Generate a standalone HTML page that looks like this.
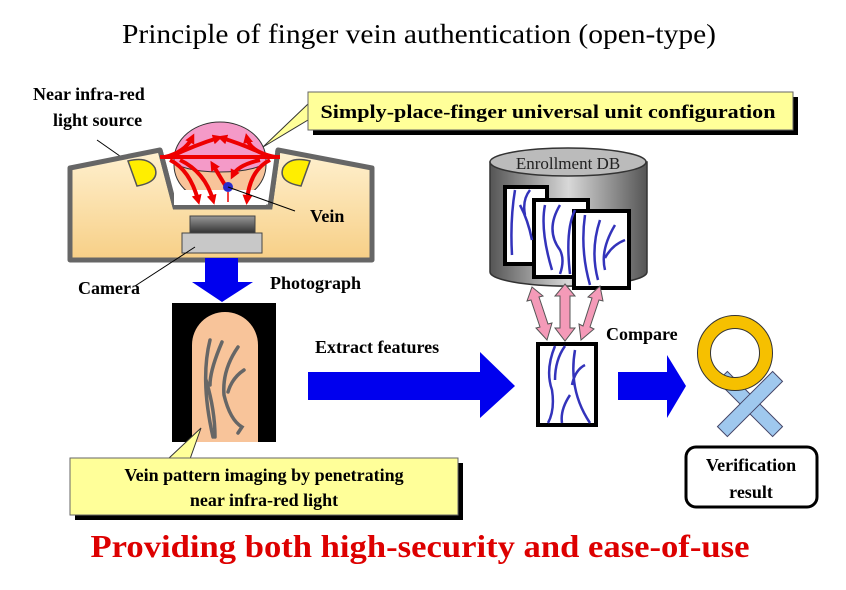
<!DOCTYPE html>
<html><head><meta charset="utf-8"><style>
html,body{margin:0;padding:0;background:#fff;}
svg{display:block;}
text{font-family:"Liberation Serif",serif;}
</style></head><body>
<svg width="846" height="590" viewBox="0 0 846 590" xmlns="http://www.w3.org/2000/svg">
<defs>
<linearGradient id="dev" x1="0" y1="0" x2="0" y2="1"><stop offset="0" stop-color="#fff1d0"/><stop offset="1" stop-color="#f7cf86"/></linearGradient>
<linearGradient id="cyl" x1="0" y1="0" x2="1" y2="0"><stop offset="0" stop-color="#555"/><stop offset="0.5" stop-color="#d8d8d8"/><stop offset="1" stop-color="#555"/></linearGradient>
<linearGradient id="cam" x1="0" y1="0" x2="0" y2="1"><stop offset="0" stop-color="#999"/><stop offset="1" stop-color="#333"/></linearGradient>
<marker id="ra" markerUnits="userSpaceOnUse" markerWidth="10" markerHeight="10" refX="5" refY="5" orient="auto"><path d="M0,0 L10,5 L0,10 z" fill="#e00"/></marker>
</defs>
<rect width="846" height="590" fill="#fff"/>
<text x="419" y="43" font-size="27" text-anchor="middle" textLength="594" lengthAdjust="spacingAndGlyphs">Principle of finger vein authentication (open-type)</text>

<!-- callout 1 -->
<rect x="313" y="97" width="485" height="38" fill="#000"/>
<polygon points="308,104 263,147 308,120" fill="#ffff99" stroke="#333" stroke-width="1"/>
<rect x="308" y="92" width="485" height="38" fill="#ffff99" stroke="#666" stroke-width="1"/>
<text x="548" y="118" font-size="19" font-weight="bold" text-anchor="middle" textLength="455" lengthAdjust="spacingAndGlyphs">Simply-place-finger universal unit configuration</text>

<!-- labels -->
<text x="33" y="100" font-size="18" font-weight="bold">Near infra-red</text>
<text x="53" y="126" font-size="18" font-weight="bold">light source</text>
<line x1="97" y1="140" x2="137" y2="168" stroke="#000" stroke-width="1"/>

<!-- device -->
<polygon points="70,168 160,150 175,207 270,207 278,150 372,168 372,260 70,260" fill="url(#dev)" stroke="#666" stroke-width="5" stroke-linejoin="round"/>
<polygon points="164,152 176,205 270,205 276,152" fill="#fff"/>
<polyline points="160,150 175,207 270,207 278,150" fill="none" stroke="#666" stroke-width="5"/>
<!-- finger -->
<ellipse cx="220" cy="165" rx="46" ry="38" fill="#f8c49a" stroke="#333" stroke-width="1"/>
<path d="M174,160 A46,38 0 0 1 266,160 A46,12 0 0 1 174,160 z" fill="#f49ac8" stroke="#333" stroke-width="1"/>
<rect x="174" y="190" width="92" height="15" fill="#fff"/>
<!-- LEDs -->
<path d="M128,161 L137,186 Q160,182 155,168 Q148,156 128,161 z" fill="#ffee00" stroke="#555" stroke-width="1.5"/>
<path d="M310,161 L301,186 Q278,182 283,168 Q290,156 310,161 z" fill="#ffee00" stroke="#555" stroke-width="1.5"/>
<!-- red light -->
<g stroke="#e00" stroke-width="4" fill="none">
<line x1="160" y1="157" x2="280" y2="157"/>
<path d="M165,157 Q185,152 192,138" marker-end="url(#ra)"/>
<path d="M170,157 Q195,145 218,138" marker-end="url(#ra)"/>
<path d="M270,157 Q245,145 222,138" marker-end="url(#ra)"/>
<path d="M275,157 Q250,152 247,138" marker-end="url(#ra)"/>
<path d="M170,160 Q190,170 198,200" marker-end="url(#ra)"/>
<path d="M180,160 Q205,172 213,200" marker-end="url(#ra)"/>
<path d="M270,160 Q250,170 247,200" marker-end="url(#ra)"/>
<path d="M260,160 Q238,165 233,175" marker-end="url(#ra)"/>
<path d="M225,185 L213,165" marker-end="url(#ra)"/>
<line x1="228" y1="192" x2="228" y2="202" stroke-width="1.5"/>
</g>
<circle cx="228" cy="187" r="5" fill="#2b2bcc"/>
<line x1="228" y1="187" x2="295" y2="211" stroke="#000" stroke-width="1"/>
<text x="310" y="222" font-size="18" font-weight="bold">Vein</text>
<!-- camera -->
<rect x="190" y="216" width="65" height="17" fill="url(#cam)" stroke="#444" stroke-width="1"/>
<rect x="182" y="233" width="80" height="20" fill="#c8c8c8" stroke="#444" stroke-width="1"/>
<line x1="195" y1="247" x2="135" y2="286" stroke="#000" stroke-width="1"/>
<text x="78" y="294" font-size="18" font-weight="bold">Camera</text>
<text x="270" y="289" font-size="18" font-weight="bold">Photograph</text>
<!-- down arrow -->
<polygon points="205,258 238,258 238,282 253,282 222,302 192,282 205,282" fill="#0000ee"/>

<!-- image -->
<rect x="172" y="303" width="104" height="139" fill="#000"/>
<path d="M192,442 L192,345 A33,33 0 0 1 258,345 L258,442 z" fill="#f8c49a"/>
<g stroke="#666" stroke-width="3.5" fill="none" stroke-linecap="round">
<path d="M210,340 Q200,380 213,437"/>
<path d="M222,342 Q210,370 210,385"/>
<path d="M206,380 Q215,410 215,437"/>
<path d="M238,347 Q222,370 224,395 Q230,420 242,427 L238,433"/>
<path d="M244,370 Q232,378 228,392"/>
</g>
<!-- callout 2 -->
<rect x="75" y="463" width="388" height="57" fill="#000"/>
<polygon points="168,459 201,428 190,459" fill="#ffff99" stroke="#333" stroke-width="1"/>
<rect x="70" y="458" width="388" height="57" fill="#ffff99" stroke="#666" stroke-width="1"/>
<text x="264" y="481" font-size="18" font-weight="bold" text-anchor="middle">Vein pattern imaging by penetrating</text>
<text x="264" y="506" font-size="18" font-weight="bold" text-anchor="middle">near infra-red light</text>

<!-- extract arrow -->
<text x="315" y="353" font-size="18" font-weight="bold">Extract features</text>
<polygon points="308,372 480,372 480,352 515,386 480,418 480,400 308,400" fill="#0000ee"/>

<!-- DB -->
<path d="M490,162 L490,272 A78,14 0 0 0 647,272 L647,162 z" fill="url(#cyl)" stroke="#333" stroke-width="1.5"/>
<ellipse cx="568" cy="162" rx="78" ry="14" fill="#bbb" stroke="#333" stroke-width="1.5"/>
<text x="568" y="169" font-size="17" text-anchor="middle" fill="#222">Enrollment DB</text>
<g stroke-width="4" stroke="#000">
<rect x="505" y="187" width="42" height="77" fill="#fff"/>
<rect x="534" y="200" width="54" height="77" fill="#fff"/>
<rect x="574" y="211" width="55" height="77" fill="#fff"/>
</g>
<g stroke="#3333bb" stroke-width="2.5" fill="none">
<path d="M515,190 Q510,220 512,255 M520,205 Q528,220 532,240 M530,190 Q522,200 525,215"/>
<path d="M545,205 Q540,230 552,270 M560,205 Q545,230 560,250 Q565,260 560,274 M575,210 Q565,230 570,274"/>
<path d="M585,215 Q580,250 590,285 M600,220 Q590,250 598,280 M615,225 Q600,250 605,270 M625,240 Q612,245 605,258"/>
</g>
<!-- pink double arrows -->
<g fill="#f49ab8" stroke="#555" stroke-width="1">
<polygon points="532,287 543,296 539,297 548,324 552,323 547,340 536,328 540,327 531,300 527,301"/>
<polygon points="565,284 575,296 570,296 570,328 575,328 565,341 555,328 560,328 560,296 555,296"/>
<polygon points="600,286 603,301 599,300 590,327 594,329 581,340 579,324 583,326 592,298 588,297"/>
</g>
<!-- middle image -->
<rect x="538" y="344" width="58" height="81" fill="#fff" stroke="#000" stroke-width="4"/>
<g stroke="#3333bb" stroke-width="2.5" fill="none">
<path d="M555,346 Q545,370 552,390 Q555,410 548,423 M565,346 Q555,360 555,380 M575,350 Q568,390 590,423 M585,365 Q575,370 572,385 M570,395 Q560,410 562,423"/>
</g>
<text x="606" y="340" font-size="18" font-weight="bold">Compare</text>
<!-- compare arrow -->
<polygon points="618,372 667,372 667,355 686,386 667,418 667,400 618,400" fill="#0000ee"/>
<!-- result icons -->
<g transform="translate(750,404) rotate(45)">
<rect x="-39" y="-7" width="78" height="14" fill="#9fc8ee" stroke="#446" stroke-width="1"/>
<rect x="-7" y="-39" width="14" height="78" fill="#9fc8ee" stroke="#446" stroke-width="1"/>
<rect x="-6.5" y="-6.5" width="13" height="13" fill="#9fc8ee"/>
</g>
<circle cx="735" cy="353" r="31" fill="none" stroke="#333" stroke-width="14"/>
<circle cx="735" cy="353" r="31" fill="none" stroke="#f6c000" stroke-width="12"/>
<rect x="686" y="447" width="131" height="60" rx="10" fill="#fff" stroke="#000" stroke-width="3"/>
<text x="751" y="471" font-size="18" font-weight="bold" text-anchor="middle">Verification</text>
<text x="751" y="498" font-size="18" font-weight="bold" text-anchor="middle">result</text>

<text x="420" y="557" font-size="32" font-weight="bold" fill="#dd0000" text-anchor="middle" textLength="659" lengthAdjust="spacingAndGlyphs">Providing both high-security and ease-of-use</text>
</svg>
</body></html>
